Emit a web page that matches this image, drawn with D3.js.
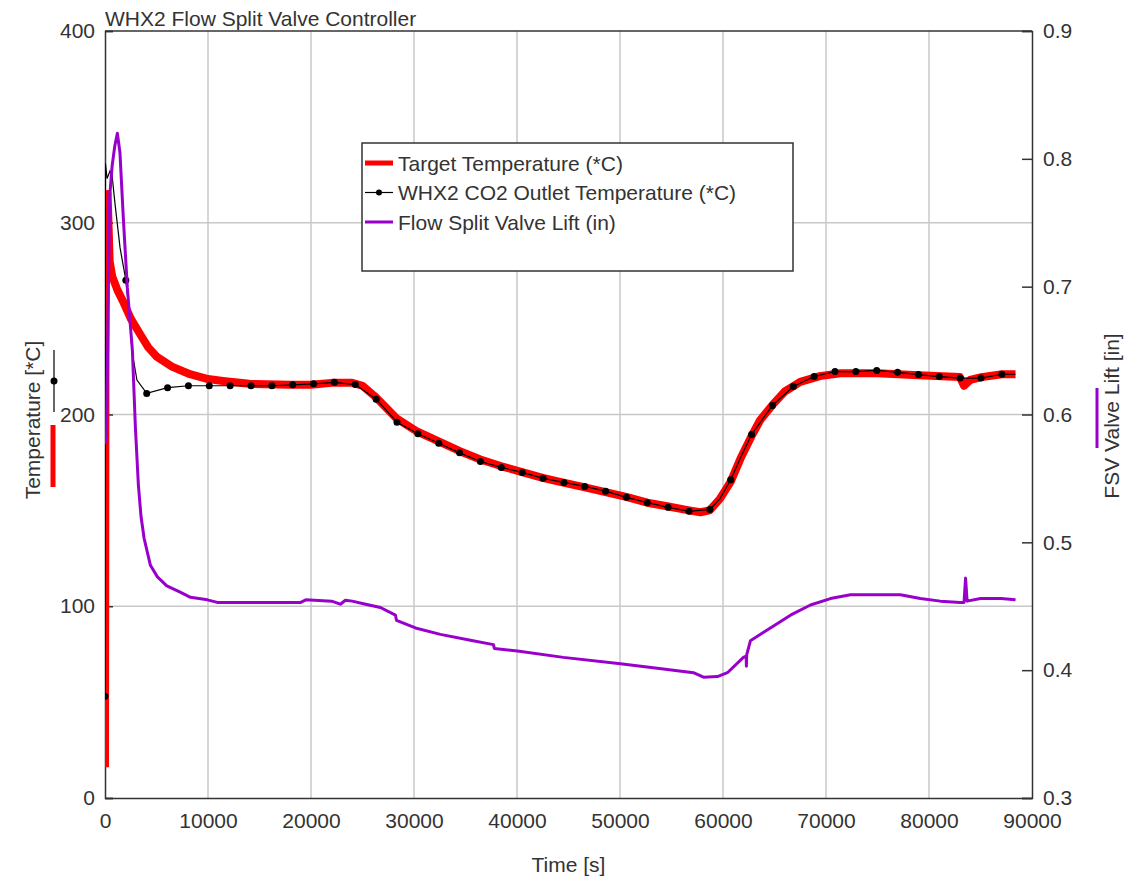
<!DOCTYPE html>
<html>
<head>
<meta charset="utf-8">
<script src="https://cdn.jsdelivr.net/npm/d3@7"></script>
<style>
  body { margin: 0; background: #fff; }
  svg text { font-family: "Liberation Sans", Arial, sans-serif; fill: #333; }
</style>
</head>
<body>
<div id="chart"></div>
<script>
var svgWidth = 1146;
var svgHeight = 881;

var margin = { top: 31, right: 114, bottom: 83, left: 105 };
var width = svgWidth - margin.left - margin.right;
var height = svgHeight - margin.top - margin.bottom;

// tick values
var timeTicks = [0, 10000, 20000, 30000, 40000, 50000, 60000, 70000, 80000, 90000];
var tempTicks = [0, 100, 200, 300, 400];
var liftTicks = [0.3, 0.4, 0.5, 0.6, 0.7, 0.8, 0.9];

var seriesNames = ["Target Temperature (*C)", "WHX2 CO2 Outlet Temperature (*C)", "Flow Split Valve Lift (in)"];

// [time s, temperature *C]
var targetTemp = [[0, 16], [60, 302], [120, 300], [250, 315], [450, 280], [700, 272], [1200, 265],
  [1750, 259], [2500, 250], [3400, 242], [4200, 235], [5050, 230], [6500, 225], [8250, 221],
  [10000, 218.5], [11450, 217.5], [14000, 216], [18000, 215.5], [20000, 215.5], [22000, 216.5],
  [24000, 216.5], [25000, 215], [26300, 209], [28300, 198], [30350, 191], [32400, 186], [34400, 181],
  [36450, 176.5], [38500, 173], [40500, 170], [42500, 167], [44500, 164.5], [46600, 162], [48600, 159.5],
  [50600, 157], [52650, 154], [54700, 152], [56700, 150], [57800, 149], [58700, 150], [59700, 156],
  [60750, 165], [61700, 177], [62800, 189], [63600, 197], [64800, 205], [66000, 212], [67500, 217],
  [69400, 220], [71400, 221.5], [75000, 221.5], [79000, 220.5], [83000, 219.5], [83400, 215],
  [83600, 216], [84000, 218], [85100, 219.5], [87100, 221], [88400, 221]];

// [time s, temperature *C]; a marker every 2025 s
var outletTemp = [[0, 53], [40, 331], [200, 323], [485, 327], [680, 325], [970, 310], [1460, 287],
  [2025, 270], [2430, 249], [2620, 233], [3100, 218], [4050, 211], [6075, 214], [8100, 215],
  [10125, 215], [12150, 215], [14175, 215], [16200, 215], [18225, 215.5], [20250, 216], [22275, 216.8],
  [24300, 215.6], [26325, 208], [28350, 196], [30375, 190], [32400, 185], [34425, 180], [36450, 175.5],
  [38475, 172.4], [40500, 169.8], [42525, 166.7], [44550, 164.6], [46575, 162.5], [48600, 160],
  [50625, 156.8], [52650, 154], [54675, 151.6], [56700, 149.5], [58725, 150.5], [59700, 156],
  [60750, 166], [61700, 177.5], [62775, 189.6], [64800, 204.7], [66825, 214.6], [68850, 219.8],
  [70875, 222.4], [72900, 222.4], [74925, 223], [76950, 222], [78975, 220.8], [81000, 219.8],
  [83025, 219], [85050, 219], [87075, 221], [88400, 221]];
var markerStep = 2025;

// [time s, valve lift in]
var valveLift = [[140, 0.577], [300, 0.68], [450, 0.77], [700, 0.795], [950, 0.81], [1200, 0.82],
  [1450, 0.805], [1790, 0.752], [2170, 0.699], [2660, 0.65], [2950, 0.59], [3240, 0.545],
  [3500, 0.52], [3800, 0.503], [4120, 0.492], [4410, 0.482], [5090, 0.473], [6000, 0.466], [7300, 0.461],
  [8300, 0.457], [9940, 0.455], [10900, 0.453], [19000, 0.453], [19500, 0.455], [22000, 0.454],
  [22850, 0.4516], [23340, 0.4547], [24000, 0.454], [25090, 0.452], [26740, 0.449], [28200, 0.443],
  [28300, 0.439], [30140, 0.433], [32560, 0.428], [35480, 0.4234], [37710, 0.42], [37800, 0.417],
  [40040, 0.415], [44500, 0.41], [50040, 0.405], [54210, 0.401], [57130, 0.398], [58100, 0.3945],
  [59460, 0.395], [60430, 0.398], [61980, 0.41], [62250, 0.411], [62270, 0.403], [62300, 0.412],
  [62660, 0.423], [64600, 0.433], [66550, 0.443], [68490, 0.451], [70430, 0.456], [72370, 0.459],
  [77220, 0.459], [79160, 0.456], [81100, 0.454], [83040, 0.453], [83400, 0.453], [83550, 0.472],
  [83700, 0.454], [85000, 0.456], [87000, 0.456], [88400, 0.455]];

var red = "#ff0000", purple = "#9900cc", grid = "#c8c8c8", frame = "#333";

var svg = d3.select("#chart")
  .append("svg")
  .attr("width", svgWidth)
  .attr("height", svgHeight);

var chartGroup = svg.append("g")
  .attr("transform", `translate(${margin.left}, ${margin.top})`);

var x = d3.scaleLinear().domain([0, 90000]).range([0, width]);
var yTemp = d3.scaleLinear().domain([0, 400]).range([height, 0]);
var yLift = d3.scaleLinear().domain([0.3, 0.9]).range([height, 0]);

// grid
chartGroup.selectAll(".vgrid")
  .data(timeTicks.slice(1, -1))
  .enter().append("line")
  .attr("x1", d => x(d)).attr("x2", d => x(d))
  .attr("y1", 0).attr("y2", height)
  .attr("stroke", grid).attr("stroke-width", 1.5);

chartGroup.selectAll(".hgrid")
  .data(tempTicks.slice(1, -1))
  .enter().append("line")
  .attr("x1", 0).attr("x2", width)
  .attr("y1", d => yTemp(d)).attr("y2", d => yTemp(d))
  .attr("stroke", grid).attr("stroke-width", 1.5);

// axes
var leftAxis = d3.axisLeft(yTemp).tickValues(tempTicks).tickSize(-8).tickPadding(10);
var rightAxis = d3.axisRight(yLift).tickValues(liftTicks).tickSize(-10).tickPadding(11).tickFormat(d3.format(".1f"));
var bottomAxis = d3.axisBottom(x).tickValues(timeTicks).tickSize(0).tickPadding(15).tickFormat(d3.format("d"));

function styleAxis(g) {
  g.select(".domain").attr("stroke", frame).attr("stroke-width", 1.5);
  g.selectAll(".tick line").attr("stroke", frame).attr("stroke-width", 1.5);
  g.selectAll(".tick text").style("font-size", "21px").attr("fill", "#333");
}

chartGroup.append("g").call(leftAxis).call(styleAxis);
chartGroup.append("g").attr("transform", `translate(${width}, 0)`).call(rightAxis).call(styleAxis);
chartGroup.append("g").attr("transform", `translate(0, ${height})`).call(bottomAxis).call(styleAxis);
chartGroup.append("line")
  .attr("x1", 0).attr("x2", width).attr("y1", 0).attr("y2", 0)
  .attr("stroke", frame).attr("stroke-width", 1.5);

// data lines
chartGroup.append("clipPath").attr("id", "plotClip")
  .append("rect").attr("width", width).attr("height", height);

var plot = chartGroup.append("g").attr("clip-path", "url(#plotClip)");

var tempLine = d3.line().x(d => x(d[0])).y(d => yTemp(d[1]));
var liftLine = d3.line().x(d => x(d[0])).y(d => yLift(d[1]));

plot.append("path")
  .datum(targetTemp)
  .attr("d", tempLine)
  .attr("fill", "none").attr("stroke", red).attr("stroke-width", 8)
  .attr("stroke-linejoin", "round");

plot.append("path")
  .datum(outletTemp)
  .attr("d", tempLine)
  .attr("fill", "none").attr("stroke", "#000").attr("stroke-width", 1.2);

plot.selectAll(".marker")
  .data(outletTemp.filter(d => d[0] % markerStep === 0))
  .enter().append("circle")
  .attr("cx", d => x(d[0]))
  .attr("cy", d => yTemp(d[1]))
  .attr("r", 3.5)
  .attr("fill", "#000");

plot.append("path")
  .datum(valveLift)
  .attr("d", liftLine)
  .attr("fill", "none").attr("stroke", purple).attr("stroke-width", 3)
  .attr("stroke-linejoin", "round");

// title and axis labels
svg.append("text")
  .attr("x", 105).attr("y", 26)
  .style("font-size", "21px")
  .text("WHX2 Flow Split Valve Controller");

svg.append("text")
  .attr("x", margin.left + width / 2).attr("y", 872)
  .attr("text-anchor", "middle")
  .style("font-size", "21px")
  .text("Time [s]");

svg.append("text")
  .attr("transform", "translate(40, 420) rotate(-90)")
  .attr("text-anchor", "middle")
  .style("font-size", "21px")
  .text("Temperature [*C]");

svg.append("text")
  .attr("transform", "translate(1119, 416) rotate(-90)")
  .attr("text-anchor", "middle")
  .style("font-size", "21px")
  .text("FSV Valve Lift [in]");

// series keys next to axis titles
svg.append("line").attr("x1", 54).attr("x2", 54).attr("y1", 350).attr("y2", 412)
  .attr("stroke", "#000").attr("stroke-width", 1.2);
svg.append("circle").attr("cx", 54).attr("cy", 381).attr("r", 3.5).attr("fill", "#000");
svg.append("line").attr("x1", 53).attr("x2", 53).attr("y1", 425).attr("y2", 487)
  .attr("stroke", red).attr("stroke-width", 5);
svg.append("line").attr("x1", 1097).attr("x2", 1097).attr("y1", 388).attr("y2", 448)
  .attr("stroke", purple).attr("stroke-width", 3);

// legend
var legend = svg.append("g").attr("transform", "translate(362, 143)");
legend.append("rect")
  .attr("width", 431).attr("height", 128)
  .attr("fill", "#fff").attr("stroke", frame).attr("stroke-width", 1.5);

var legendStyles = [
  { color: red, w: 5, dot: false },
  { color: "#000", w: 1.2, dot: true },
  { color: purple, w: 3, dot: false }
];

var rows = legend.selectAll(".row")
  .data(seriesNames)
  .enter().append("g")
  .attr("transform", (d, i) => `translate(0, ${20 + i * 29.5})`);

rows.append("line")
  .attr("x1", 3).attr("x2", 31).attr("y1", 0).attr("y2", 0)
  .attr("stroke", (d, i) => legendStyles[i].color)
  .attr("stroke-width", (d, i) => legendStyles[i].w);

rows.filter((d, i) => legendStyles[i].dot)
  .append("circle").attr("cx", 17).attr("cy", 0).attr("r", 3).attr("fill", "#000");

rows.append("text")
  .attr("x", 36).attr("y", 7.5)
  .style("font-size", "21px")
  .text(d => d);
</script>
</body>
</html>
